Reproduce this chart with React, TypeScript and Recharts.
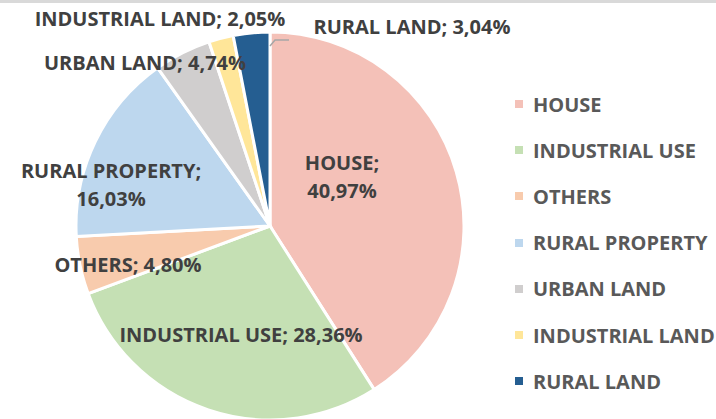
import React from "react";
import { PieChart, Pie, Cell, Legend } from "recharts";

const categories = ["HOUSE", "INDUSTRIAL USE", "OTHERS", "RURAL PROPERTY", "URBAN LAND", "INDUSTRIAL LAND", "RURAL LAND"];
const values = [40.97, 28.36, 4.8, 16.03, 4.74, 2.05, 3.04];
const valueLabels = ["40,97%", "28,36%", "4,80%", "16,03%", "4,74%", "2,05%", "3,04%"];
const colors = ["#F4C1B8", "#C5E0B4", "#F8CBAD", "#BDD7EE", "#D0CECE", "#FFE699", "#255E91"];
// label placement relative to pie centre (px), and whether the label wraps
const labelDx = [72, -29, -142, -159, -125, -110, 142];
const labelDy = [-50, 108, 38, -42, -164, -208, -200];
const labelWrap = [true, false, false, true, false, false, false];

const data = categories.map((name, i) => ({ name, value: values[i], label: valueLabels[i] }));

const FONT = "'Open Sans', sans-serif";

const renderLabel = (props: any) => {
  const { cx, cy, index, outerRadius } = props;
  const x = cx + labelDx[index];
  const y = cy + labelDy[index];
  const d = data[index];
  const common = {
    x,
    textAnchor: "middle" as const,
    dominantBaseline: "central" as const,
    fill: "#404040",
    fontFamily: FONT,
    fontWeight: 700,
    fontSize: 20,
  };
  let leader = null;
  if (index === 6) {
    const sx = cx;
    const sy = cy - outerRadius + 14;
    leader = (
      <polyline points={`${sx},${sy} ${sx + 5},${sy - 6} ${sx + 19},${sy - 6}`} fill="none" stroke="#A6A6A6" strokeWidth={1.5} />
    );
  }
  if (labelWrap[index]) {
    return (
      <g>
        <text {...common} y={y - 13.5}>{d.name + ";"}</text>
        <text {...common} y={y + 14}>{d.label}</text>
      </g>
    );
  }
  return (
    <g>
      {leader}
      <text {...common} y={y}>{`${d.name}; ${d.label}`}</text>
    </g>
  );
};

const renderLegend = () => (
  <div style={{ fontFamily: FONT }}>
    {categories.map((c, i) => (
      <div key={c} style={{ display: "flex", alignItems: "center", height: 46.2 }}>
        <div style={{ width: 8, height: 8, background: colors[i], marginRight: 10 }} />
        <span style={{ fontSize: 20, fontWeight: 700, color: "#595959", whiteSpace: "nowrap" }}>{c}</span>
      </div>
    ))}
  </div>
);

export default function App() {
  return (
    <div style={{ position: "absolute", left: 0, top: 0, width: 716, height: 419, background: "#fff", overflow: "hidden" }}>
      <div style={{ position: "absolute", left: 0, top: 0, width: 716, height: 3, background: "#D9D9D9", zIndex: 2 }} />
      <PieChart width={716} height={419} margin={{ top: 0, right: 0, bottom: 0, left: 0 }}>
        <Pie
          data={data}
          dataKey="value"
          nameKey="name"
          cx={270}
          cy={226}
          outerRadius={194}
          startAngle={90}
          endAngle={-270}
          stroke="#FFFFFF"
          strokeWidth={3}
          label={renderLabel}
          labelLine={false}
          isAnimationActive={false}
        >
          {data.map((d, i) => (
            <Cell key={d.name} fill={colors[i]} />
          ))}
        </Pie>
        <Legend
          layout="vertical"
          content={renderLegend}
          wrapperStyle={{ left: 515, top: 81, width: 201 }}
        />
      </PieChart>
    </div>
  );
}
